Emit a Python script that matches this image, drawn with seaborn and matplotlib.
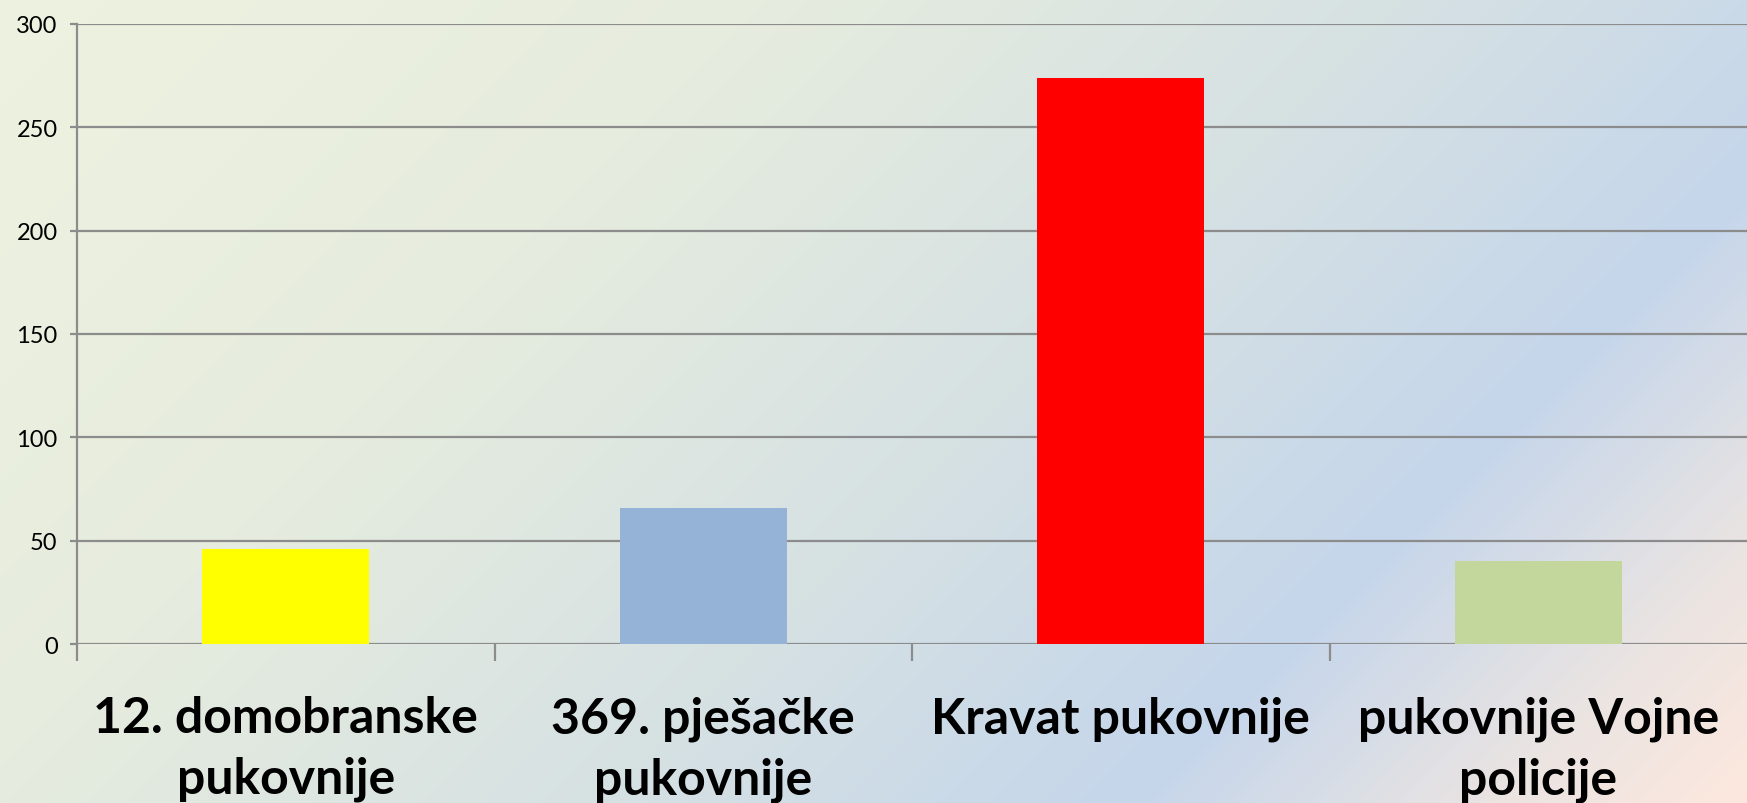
import numpy as np
import pandas as pd
import seaborn as sns
import matplotlib.pyplot as plt
from matplotlib.colors import LinearSegmentedColormap
from matplotlib.ticker import FixedLocator

units = ["12. domobranske\npukovnije", "369. pješačke\npukovnije",
         "Kravat pukovnije", "pukovnije Vojne\npolicije"]
counts = [46, 66, 274, 40]
bar_colors = ["#FFFF00", "#95B3D7", "#FF0000", "#C3D69B"]
y_ticks = [0, 50, 100, 150, 200, 250, 300]

df = pd.DataFrame({"unit": units, "count": counts})

sns.set_style("white")
plt.rcParams["font.family"] = ["Lato", "DejaVu Sans"]
plt.rcParams["text.color"] = "black"

fig = plt.figure(figsize=(17.47, 8.04), dpi=100)

# diagonal background gradient: cream -> light blue -> peach
bg = fig.add_axes([0, 0, 1, 1], zorder=0)
h, w = 804, 1747
yy, xx = np.mgrid[0:h, 0:w]
t = (xx + yy) / (w + h)
cmap = LinearSegmentedColormap.from_list(
    "bg", [(0, "#EEF2E0"), (0.3, "#E6ECDE"), (0.55, "#D6E1E3"),
           (0.76, "#C5D6EB"), (0.9, "#EAE4E2"), (1.0, "#FDE8DE")])
bg.imshow(t, cmap=cmap, aspect="auto", extent=[0, 1, 0, 1], origin="upper")
bg.axis("off")

ax = fig.add_axes([77 / 1747, 1 - 645 / 804, 1 - 77 / 1747, (645 - 25) / 804], zorder=1)
ax.patch.set_alpha(0)

sns.barplot(data=df, x="unit", y="count", hue="unit", palette=bar_colors,
            legend=False, width=0.4, saturation=1, linewidth=0, ax=ax, zorder=3)

ax.set_ylim(0, 300)
ax.set_xlim(-0.5, 3.5)
ax.set_yticks(y_ticks)
ax.yaxis.grid(True, color="#8C8C8C", linewidth=1.6, zorder=0)
ax.set_axisbelow(True)
ax.set_xlabel("")
ax.set_ylabel("")

for side in ["top", "right", "bottom"]:
    ax.spines[side].set_visible(False)
ax.spines["left"].set_color("#8C8C8C")
ax.spines["left"].set_linewidth(1.6)

ax.tick_params(axis="y", labelsize=17, colors="#8C8C8C", labelcolor="black",
               length=5, width=1.6, pad=9, left=True)
ax.tick_params(axis="x", which="major", length=0, pad=37, labelsize=36,
               labelcolor="black")
ax.xaxis.set_minor_locator(FixedLocator([-0.5, 0.5, 1.5, 2.5]))
ax.tick_params(axis="x", which="minor", length=12, width=1.6, color="#8C8C8C", bottom=True)
for lab in ax.get_xticklabels():
    lab.set_fontweight("bold")
    lab.set_linespacing(1.42)
    lab.set_verticalalignment("top")

fig.savefig("out.png", dpi=100)
